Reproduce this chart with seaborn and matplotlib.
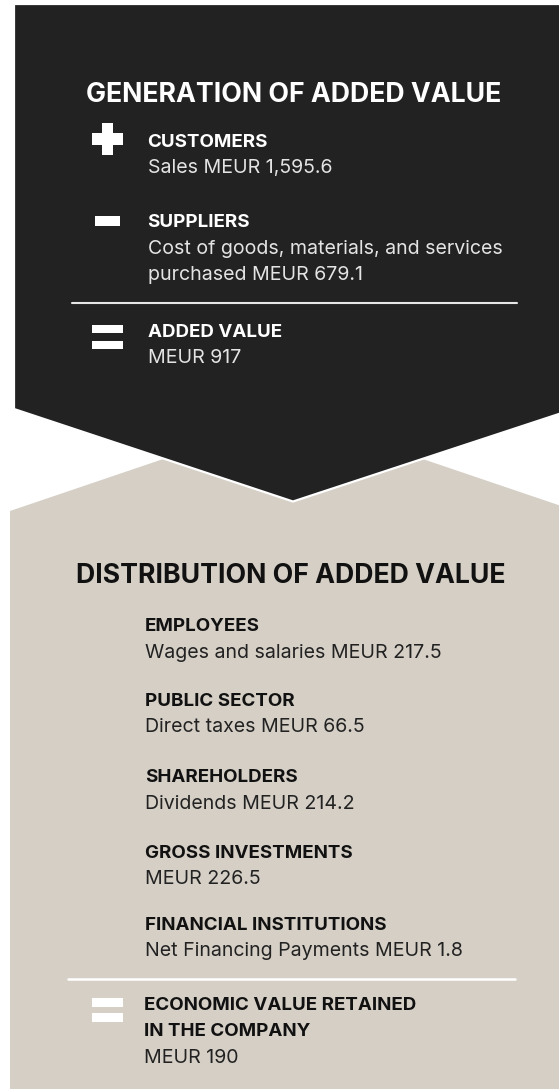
import matplotlib
matplotlib.use("Agg")
import matplotlib.pyplot as plt
from matplotlib.patches import Polygon, Rectangle
import seaborn as sns

# ---------------- data ----------------
gen_title = "GENERATION OF ADDED VALUE"
gen_heads = ["CUSTOMERS", "SUPPLIERS", "ADDED VALUE"]
gen_texts = ["Sales MEUR 1,595.6",
             "Cost of goods, materials, and services\npurchased MEUR 679.1",
             "MEUR 917"]

dist_title = "DISTRIBUTION OF ADDED VALUE"
dist_heads = ["EMPLOYEES", "PUBLIC SECTOR", "SHAREHOLDERS",
              "GROSS INVESTMENTS", "FINANCIAL INSTITUTIONS"]
dist_texts = ["Wages and salaries MEUR 217.5", "Direct taxes MEUR 66.5",
              "Dividends MEUR 214.2", "MEUR 226.5",
              "Net Financing Payments MEUR 1.8"]

ret_head = "ECONOMIC VALUE RETAINED\nIN THE COMPANY"
ret_text = "MEUR 190"

# ---------------- style ----------------
sns.set_style("white")
plt.rcParams['font.family'] = ['Inter', 'DejaVu Sans']

DARK = "#222222"
BEIGE = "#d5cfc6"

fig = plt.figure(figsize=(5.59, 10.89), dpi=100)
ax = fig.add_axes([0, 0, 1, 1])
ax.set_xlim(0, 559)
ax.set_ylim(1089, 0)
ax.axis("off")

# background shapes
ax.add_patch(Polygon([(10, 511), (293, 415), (576, 511), (576, 1095), (10, 1095)],
                     closed=True, fc=BEIGE, ec="none", zorder=1))
ax.add_patch(Polygon([(14, 4), (574, 4), (574, 409), (293, 501.5), (14, 409)],
                     closed=True, fc=DARK, ec="white", lw=1.6, zorder=2))

def box(x0, y0, x1, y1, c="white"):
    ax.add_patch(Rectangle((x0, y0), x1 - x0, y1 - y0, fc=c, ec="none", zorder=3))

# icons
box(91.7, 133.3, 123.3, 145)      # plus
box(102.3, 123.3, 112.7, 155)
box(95, 215.7, 120, 225.7)        # minus
box(92, 325, 123.3, 333.3)        # equals
box(92, 340.7, 123.3, 349)
box(92, 998.3, 123.3, 1006.7)     # equals (retained)
box(92, 1013.3, 123.3, 1021.7)

# separator lines
ax.plot([71.7, 517.3], [302.7, 302.7], color="#e6e6e6", lw=1.5, zorder=3)
ax.plot([68.4, 514.8], [979, 979], color="white", lw=1.8, zorder=3)

HS = 13.5   # heading size
TS = 14.1   # body size
TTL = 19.2  # panel title size
LS = 26.5   # line step px

# ---- generation panel ----
ax.text(294, 101.7, gen_title, ha="center", va="baseline", color="white",
        fontsize=TTL, fontweight="bold", zorder=4)
gen_base = [146.7, 227.3, 336.7]
for head, txt, yb in zip(gen_heads, gen_texts, gen_base):
    ax.text(147.5, yb, head, ha="left", va="baseline", color="white",
            fontsize=HS, fontweight="bold", zorder=4)
    for i, line in enumerate(txt.split("\n")):
        ax.text(147.5, yb + LS * (i + 1), line, ha="left", va="baseline",
                color="#e4e4e4", fontsize=TS, zorder=4)

# ---- distribution panel ----
ax.text(291, 582.7, dist_title, ha="center", va="baseline", color="#111111",
        fontsize=TTL, fontweight="bold", zorder=4)
dist_base = [631, 706, 782.3, 857.7, 930]
for head, txt, yb in zip(dist_heads, dist_texts, dist_base):
    ax.text(145, yb, head, ha="left", va="baseline", color="#111111",
            fontsize=HS, fontweight="bold", zorder=4)
    ax.text(145, yb + LS, txt, ha="left", va="baseline", color="#222222",
            fontsize=TS, zorder=4)

# retained
for i, line in enumerate(ret_head.split("\n")):
    ax.text(144.5, 1010 + LS * i, line, ha="left", va="baseline", color="#111111",
            fontsize=HS, fontweight="bold", zorder=4)
ax.text(144.5, 1063.3, ret_text, ha="left", va="baseline", color="#222222",
        fontsize=TS, zorder=4)

fig.savefig("out.png", dpi=100, facecolor="white")
